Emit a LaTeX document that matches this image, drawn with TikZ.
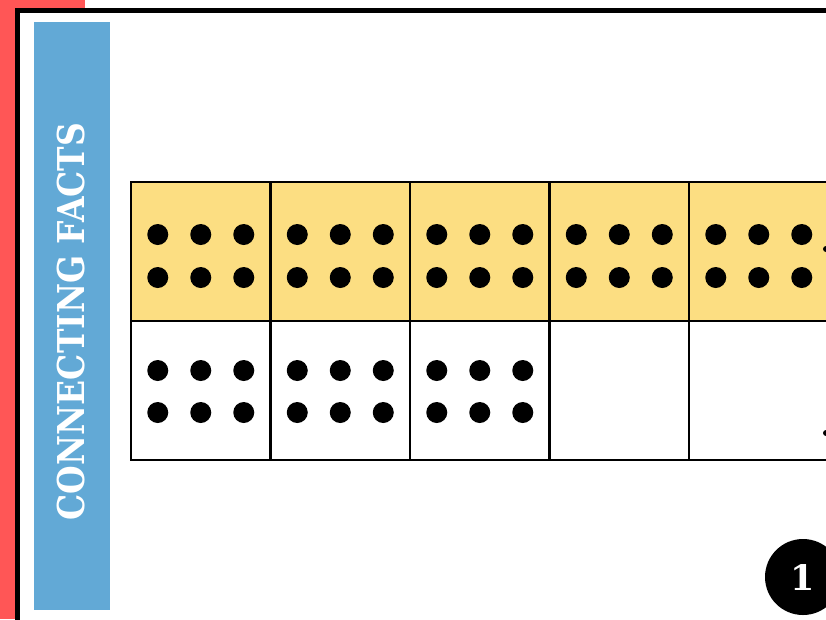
\documentclass[tikz,border=0pt]{standalone}
\usepackage{fontspec}
\newfontfamily\slabfont{DejaVu Serif}
\definecolor{coral}{HTML}{FF5656}
\definecolor{barblue}{HTML}{62A9D6}
\definecolor{tenyellow}{HTML}{FCDE82}
\begin{document}
\begin{tikzpicture}
[x=1pt,y=-1pt,
cell/.style={draw,line width=2.2pt,minimum width=139.5pt,minimum height=139pt,inner sep=0pt},
top cell/.style={cell,fill=tenyellow},
dot/.style={fill=black}]
\useasboundingbox (0,0) rectangle (826,619);
\clip (0,0) rectangle (826,619);
\fill[coral] (0,0) rectangle (85,619);
\draw[line width=5pt,fill=white] (17.5,10.5) rectangle (860,660);
\fill[barblue] (34,22) rectangle (110,610);
\node[rotate=90,text=white,font=\slabfont\bfseries\fontsize{37}{40}\selectfont] (title) at (71,321.5) {\scalebox{0.89}[1]{CONNECTING FACTS}};
\foreach \i in {1,...,5}{
  \node[top cell] (t\i) at ({131+139.5*(\i-0.5)},251.5) {};
  \node[cell] (b\i) at ({131+139.5*(\i-0.5)},390.5) {};
}
\foreach \i in {1,...,5}
  \foreach \dx in {-43,0,43}
    \foreach \dy in {-17,26}
      \fill[dot] ([shift={(\dx,\dy)}]t\i.center) circle (10.5pt);
\foreach \i in {1,2,3}
  \foreach \dx in {-43,0,43}
    \foreach \dy in {-20,22}
      \fill[dot] ([shift={(\dx,\dy)}]b\i.center) circle (10.5pt);
\fill[dot] (826,249) circle (3pt);
\fill[dot] (826,433) circle (3pt);
\node[circle,fill=black,minimum size=76pt,inner sep=0pt,text=white,font=\slabfont\bfseries\fontsize{35}{38}\selectfont] (num) at (803,577) {1};
\end{tikzpicture}
\end{document}
